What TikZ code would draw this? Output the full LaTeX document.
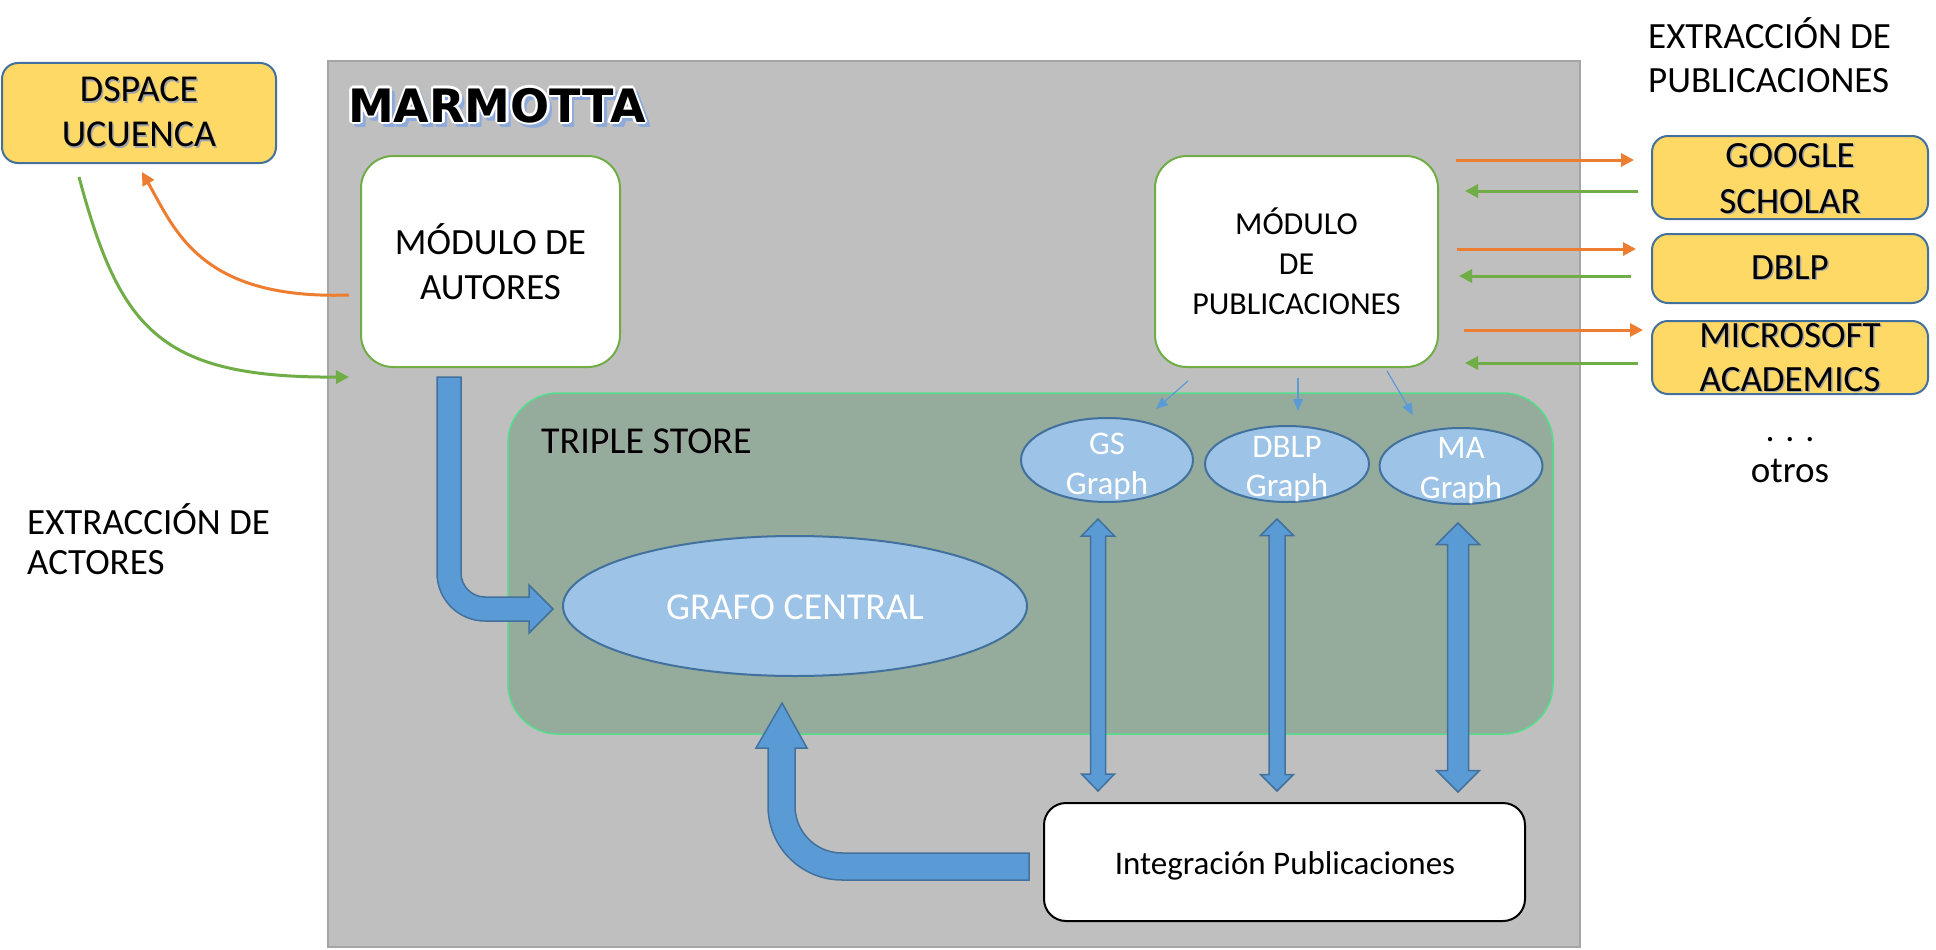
\documentclass[tikz,border=0pt]{standalone}
\usepackage{fontspec}
\setmainfont{Carlito}
\newfontfamily\marfont{DejaVu Sans}
\usetikzlibrary{arrows.meta,shapes.geometric,calc}
\definecolor{yel}{HTML}{FFD966}
\definecolor{bblue}{HTML}{41719C}
\definecolor{mgray}{HTML}{BFBFBF}
\definecolor{mgrayb}{HTML}{A5A5A5}
\definecolor{tsfill}{HTML}{95AC9C}
\definecolor{tsbord}{HTML}{55DD8C}
\definecolor{mgreen}{HTML}{70AD47}
\definecolor{lblue}{HTML}{9DC3E6}
\definecolor{ablue}{HTML}{5B9BD5}
\definecolor{orng}{HTML}{ED7D31}
\definecolor{glow}{HTML}{8EAADB}
\newcommand\sh[1]{\makebox[0pt][l]{\kern1.5pt\raisebox{-1.5pt}{\color{black!35}#1}}#1}
\newcommand\fs[2]{\fontsize{#1}{#2}\selectfont}
\newcommand\dblarr[6]{%
  \draw[blk] ({#1-#4},{#2+#6}) -- ({#1-#5},{#2+#6}) -- (#1,#2) -- ({#1+#5},{#2+#6}) -- ({#1+#4},{#2+#6})
   -- ({#1+#4},{#3-#6}) -- ({#1+#5},{#3-#6}) -- (#1,#3) -- ({#1-#5},{#3-#6}) -- ({#1-#4},{#3-#6}) -- cycle;}
\begin{document}
\begin{tikzpicture}[x=1pt,y=-1pt,
 ybox/.style={draw=bblue,line width=2pt,fill=yel,rounded corners=16pt,inner sep=0pt,minimum width=276pt},
 modbox/.style={draw=mgreen,line width=2pt,fill=white,rounded corners=32pt,inner sep=0pt,align=center},
 gell/.style={ellipse,draw=bblue,line width=2pt,fill=lblue,inner sep=0pt},
 gtext/.style={text=white,align=center,inner sep=0pt},
 oarr/.style={draw=orng,line width=3pt,-{Triangle[length=13pt,width=13pt]}},
 garr/.style={draw=mgreen,line width=3pt,-{Triangle[length=13pt,width=13pt]}},
 tarr/.style={draw=ablue,line width=1.2pt,-{Triangle[length=12pt,width=10pt]}},
 blk/.style={fill=ablue,draw=bblue,line width=1.5pt,line join=miter},
 lbl/.style={anchor=base west,inner sep=0pt,font=\fs{37}{37}},
 mfont/.style={anchor=base west,inner sep=0pt,font=\marfont\bfseries\fs{46}{46}},
]
\fill[white] (0,0) rectangle (1936,950);
\useasboundingbox (0,0) rectangle (1936,950);

% MARMOTTA container
\node[draw=mgrayb,line width=2pt,fill=mgray,minimum width=1252pt,minimum height=886pt,inner sep=0pt] (marm) at (954,504) {};
\foreach \dx/\dy in {2/4,4/2,4/4,5/3,3/5,5/5}
  \node[mfont,text=glow] at (348+\dx,122+\dy) {MARMOTTA};
\foreach \dx/\dy in {2.5/0,-2.5/0,0/2.5,0/-2.5,1.8/1.8,-1.8/1.8,1.8/-1.8,-1.8/-1.8}
  \node[mfont,text=white] at (348+\dx,122+\dy) {MARMOTTA};
\node[mfont] (mtitle) at (348,122) {MARMOTTA};

% triple store
\node[draw=tsbord,line width=1.5pt,fill=tsfill,rounded corners=50pt,minimum width=1045pt,minimum height=341pt,inner sep=0pt] (ts) at (1030.5,563.5) {};
\node[anchor=base west,inner sep=0pt,font=\fs{38}{38}] (tslabel) at (541,453) {\sh{TRIPLE STORE}};

% DSPACE
\node[ybox,minimum width=274pt,minimum height=100pt,align=center,font=\fs{38}{45}] (dspace) at (139,113) {\sh{DSPACE}\\\sh{UCUENCA}};

% modules
\node[modbox,minimum width=259pt,minimum height=211pt,font=\fs{37}{45}] (aut) at (490.5,261.5) {MÓDULO DE\\AUTORES};
\node[modbox,minimum width=283pt,minimum height=211pt,font=\fs{32}{40}] (pub) at (1296.5,261.5) {MÓDULO\\DE\\PUBLICACIONES};

% ellipses
\node[gell,minimum width=464pt,minimum height=140pt] (grafo) at (795,606) {};
\node[gtext,font=\fs{38}{38}] (grafot) at (795,607) {GRAFO CENTRAL};
\node[gell,minimum width=172pt,minimum height=84pt] (gs) at (1107,460) {};
\node[gtext,font=\fs{33}{40}] (gst) at (1107,466) {GS\\Graph};
\node[gell,minimum width=164pt,minimum height=76pt] (dblp) at (1287,464) {};
\node[gtext,font=\fs{33}{39}] (dblpt) at (1287,469) {DBLP\\Graph};
\node[gell,minimum width=163pt,minimum height=76pt] (ma) at (1461,466) {};
\node[gtext,font=\fs{33}{40}] (mat) at (1461,471) {MA\\Graph};

% integration
\node[draw=black,line width=2pt,fill=white,rounded corners=22pt,minimum width=481pt,minimum height=118pt,inner sep=0pt] (integ) at (1284.5,862) {};
\node[inner sep=0pt,font=\fs{33}{33}] (integt) at (1285,865.5) {Integración Publicaciones};

% right sources
\node[ybox,minimum height=83pt] (gsch) at (1790,177.5) {};
\node[inner sep=0pt,align=center,font=\fs{37}{46}] (gscht) at (1790,179) {\sh{GOOGLE}\\\sh{SCHOLAR}};
\node[ybox,minimum height=69pt] (dbl) at (1790,268.5) {};
\node[inner sep=0pt,font=\fs{37}{37}] (dblt) at (1790,268) {\sh{DBLP}};
\node[ybox,minimum height=73pt] (msa) at (1790,357.5) {};
\node[inner sep=0pt,align=center,font=\fs{37}{44}] (msat) at (1790,358) {\sh{MICROSOFT}\\\sh{ACADEMICS}};

% labels
\node[lbl] (rl1) at (1648,48.5) {EXTRACCIÓN DE};
\node[lbl] (rl2) at (1648,92.5) {PUBLICACIONES};
\node[lbl] (ll1) at (27,534.5) {EXTRACCIÓN DE};
\node[lbl] (ll2) at (27,574.5) {ACTORES};
\node[anchor=base,inner sep=0pt,font=\fs{36}{36}] (dots) at (1790,441) {. . .};
\node[anchor=base,inner sep=0pt,font=\fs{37}{37}] (otros) at (1790,482) {otros};

% orange / green arrows right
\draw[oarr] ($(pub.east|-0,160)+(17,0)$) -- ($(gsch.west|-0,160)+(-17,0)$);
\draw[garr] ($(gsch.west|-0,191)+(-13,0)$) -- ($(pub.east|-0,191)+(26,0)$);
\draw[oarr] ($(pub.east|-0,249)+(18,0)$) -- ($(dbl.west|-0,249)+(-15,0)$);
\draw[garr] ($(dbl.west|-0,276)+(-20,0)$) -- ($(pub.east|-0,276)+(20,0)$);
\draw[oarr] ($(pub.east|-0,330)+(25,0)$) -- ($(msa.west|-0,330)+(-8,0)$);
\draw[garr] ($(msa.west|-0,363)+(-13,0)$) -- ($(pub.east|-0,363)+(26,0)$);

% left curves
\draw[oarr] ($(aut.west)+(-11,33.5)$) .. controls (200,300) and (175,230) .. ($(dspace.south)+(3,8)$);
\draw[garr] ($(dspace.south)+(-60,13)$) .. controls (120,330) and (160,378) .. ($(aut.south west)+(-11,9)$);

% thin blue arrows
\draw[tarr] ($(pub.south)+(-108.5,13)$) -- ($(gs.north)+(49,-8)$);
\draw[tarr] ($(pub.south)+(1.5,10)$) -- ($(dblp.north)+(11,-14)$);
\draw[tarr] ($(pub.south)+(90.5,3)$) -- ($(ma.north)+(-48,-12)$);

% block arrows
\draw[blk] (437,377) -- (437,573) .. controls (437,599.5) and (458.5,621) .. (485,621) -- (529,621) -- (529,633) -- (553,609) -- (529,585) -- (529,597) -- (485,597) .. controls (471.8,597) and (461,586.2) .. (461,573) -- (461,377) -- cycle;
\draw[blk] (1029,853) -- (842,853) .. controls (816,853) and (795,832) .. (795,806) -- (795,748) -- (807,748) -- (782,703) -- (756,748) -- (768,748) -- (768,806) .. controls (768,846.9) and (801.1,880) .. (842,880) -- (1029,880) -- cycle;
\dblarr{1098}{519}{791}{7.5}{16.5}{17}
\dblarr{1277}{519}{791}{8}{16.5}{16.5}
\dblarr{1458}{523}{792}{10.5}{21.5}{21.5}
\end{tikzpicture}
\end{document}
